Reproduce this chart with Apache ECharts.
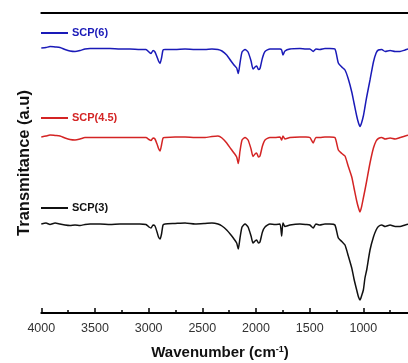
<!DOCTYPE html>
<html>
<head>
<meta charset="utf-8">
<script src="https://cdn.jsdelivr.net/npm/echarts@6/dist/echarts.min.js"></script>
<style>html,body{margin:0;padding:0;background:#fff;}#c{width:408px;height:363px;}</style>
</head>
<body>
<div id="c"></div>
<script>
const wavenumbers = [4000,3956,3919,3872,3826,3779,3733,3686,3639,3593,3546,3453,3360,3267,3174,3081,3025,2997,2978,2959,2941,2922,2908,2894,2880,2866,2847,2754,2661,2568,2475,2410,2354,2317,2273,2233,2205,2180,2165,2149,2130,2102,2074,2046,2028,2009,1994,1977,1963,1940,1916,1870,1823,1777,1761,1749,1730,1684,1591,1535,1498,1467,1442,1405,1358,1312,1265,1233,1201,1171,1140,1108,1087,1062,1045,1031,1017,1000,985,969,938,906,881,860,829,797,751,704,658,611,565,518,472,425,400];

const scp6 = [265,265.5,266.5,266,265.5,263.5,262,261.5,262.5,264,264.5,264.5,264.5,264,264,263.5,263.5,261,259.5,262.5,261,256,252,249.5,255,263,263.5,263.5,264,263.5,263.5,264,263.5,262,258,252,248,245,239.5,250,261,263.5,261,252,244,246,247,243.5,244.5,255,261.5,264,264,264,263,258,262,264,264.5,264,264,261.5,264,263.5,264.5,264.5,264,250,246,243,234,221,210,197,190,186.5,190,197,206,216,233,251,260,263,263.5,261.5,262.5,261.5,261.5,263,264.5,264,264,264,264];

const scp45 = [176,177,178,177.5,177,175,173.5,173,174,175.5,175.5,175.5,175.5,175.5,175.5,175.5,175.5,173.5,172.5,175,174,169,164.5,162,168,175,175.5,176,176,175.5,175.5,176.5,177,175,170,164,160,156,149.5,162,173,175.5,173,164,156.5,159,160,156,157,167,173,175.5,175.5,176,173,177,174,175.5,176,176,175.5,170,175.5,175.5,176,176,175.5,163,159.5,157,146.5,136,125,112,105,101,106,115,123,132,150,165,172,174.5,175.5,174,175,174,175.5,177,178,177.5,177.5,177.5,177.5];

const scp3 = [89,90,88.5,90,89,88,87.5,88,87.5,88.5,89,89,88.5,89,89,89,88.5,86,85,88,87,81,76,74,79,88,89,89.5,90,89,89.5,90,89,87,83,78,74,70,64,75,86,89,86,77,70,72,73,70,71,81,86,89,88.5,89,77,90,86.5,88,89,88.5,88,85,89,88,89,89,88,75,71.5,68,57,45,34,23,16,13,17,23,35,43,63,76,83,86.5,88,86.5,88,86.5,86.5,88,89,88.5,89,88.5,89];

const seriesNames = ['SCP(6)','SCP(4.5)','SCP(3)'];
const seriesColors = ['#1a1ab8','#d42424','#111111'];
const xTicks = {min:0, max:4000, interval:500};

const pair = arr => wavenumbers.map((w,i)=>[w,arr[i]]);
const allData = [scp6, scp45, scp3];

const chart = echarts.init(document.getElementById('c'), null, {renderer:'canvas'});
const FF = 'Arial, "Liberation Sans", sans-serif';
const legendTops = [27, 112, 202];

chart.setOption({
  backgroundColor:'#fff',
  animation:false,
  grid:{left:41.3, top:13, height:300, width:429.4, outerBoundsMode:'none', containLabel:false},
  legend: seriesNames.map((n,i)=>({
    data:[{name:n, icon:'rect'}],
    left:41, top:legendTops[i], itemWidth:27, itemHeight:2, padding:0,
    itemStyle:{color:seriesColors[i]},
    textStyle:{color:seriesColors[i], fontWeight:'bold', fontSize:11, fontFamily:FF, lineHeight:12, padding:[0,0,0,-1]},
    selectedMode:false
  })),
  xAxis:[{
    type:'value', inverse:true, min:xTicks.min, max:xTicks.max, interval:xTicks.interval,
    position:'bottom',
    axisLine:{show:true, lineStyle:{color:'#000', width:2}},
    axisTick:{show:true, inside:true, length:5, lineStyle:{color:'#000', width:1.5}},
    minorTick:{show:true, splitNumber:2, length:3, lineStyle:{color:'#000', width:1.5}},
    splitLine:{show:false},
    axisLabel:{color:'#333', fontSize:12.5, fontFamily:FF, margin:9, formatter:v=>(v>=1000?String(v):'')},
    name:'{a|Wavenumber (cm}{s|-1}{a|)}',
    nameLocation:'middle', nameGap:32,
    nameTextStyle:{
      padding:[0,72,0,0],
      rich:{
        a:{fontSize:15, fontWeight:'bold', fontFamily:FF, color:'#111'},
        s:{fontSize:9, fontWeight:'bold', fontFamily:FF, color:'#111', verticalAlign:'top', padding:[0,0,7,0]}
      }
    }
  },{
    type:'value', inverse:true, min:xTicks.min, max:xTicks.max, position:'top',
    axisLine:{show:true, lineStyle:{color:'#000', width:2}},
    axisTick:{show:false}, axisLabel:{show:false}, splitLine:{show:false}
  }],
  yAxis:{
    type:'value', min:0, max:300,
    axisLine:{show:true, lineStyle:{color:'#000', width:2}},
    axisTick:{show:false}, axisLabel:{show:false}, splitLine:{show:false},
    name:'Transmitance (a.u)', nameLocation:'middle', nameGap:8,
    nameTextStyle:{fontSize:16.5, fontWeight:'bold', fontFamily:FF, color:'#111'}
  },
  series: seriesNames.map((n,i)=>({
    name:n, type:'line', data:pair(allData[i]), showSymbol:false, symbol:'none',
    lineStyle:{color:seriesColors[i], width:1.5}, itemStyle:{color:seriesColors[i]},
    smooth:0.2, clip:true
  }))
});
</script>
</body>
</html>
